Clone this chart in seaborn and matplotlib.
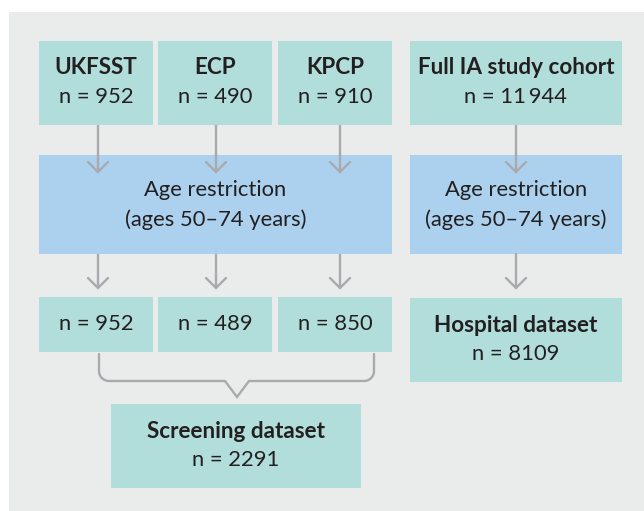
import numpy as np
import seaborn as sns
import matplotlib.pyplot as plt
from matplotlib.patches import Rectangle

sns.set_theme(style="white")
plt.rcParams['font.family'] = ['Lato', 'DejaVu Sans']

# boxes: (left, top, right, bottom) in pixels, title, count
box_pos = [(39, 41, 153, 125), (158, 41, 272, 125), (278, 41, 392, 125),
           (410, 41, 622, 125),
           (39, 155, 392, 254), (410, 155, 622, 254),
           (39, 297, 153, 352), (158, 297, 272, 352), (278, 297, 392, 352),
           (410, 298, 622, 382),
           (111, 404, 361, 488)]
box_kind = ["src", "src", "src", "src", "age", "age",
            "src", "src", "src", "src", "src"]
box_title = ["UKFSST", "ECP", "KPCP", "Full IA study cohort", None, None,
             None, None, None, "Hospital dataset", "Screening dataset"]
box_n = ["952", "490", "910", "11\u2009944", None, None,
         "952", "489", "850", "8109", "2291"]
age_text = ["Age restriction", "(ages 50\u201374 years)"]

# arrows: x, y start, y tip
arrow_x = [98, 216, 340, 516, 98, 216, 340, 516]
arrow_y0 = [125, 125, 125, 125, 254, 254, 254, 253]
arrow_y1 = [172, 172, 172, 172, 288, 288, 288, 288]

teal = "#b1dddb"
blue = "#acd1ee"
panel = "#eaebeb"
grey = "#a9aaad"
ink = "#231f20"

fig = plt.figure(figsize=(6.44, 5.11), dpi=100)
ax = fig.add_axes([0, 0, 1, 1])
ax.set_xlim(0, 644)
ax.set_ylim(511, 0)
ax.axis("off")

ax.add_patch(Rectangle((9, 12), 644 - 9, 511 - 12, color=panel, lw=0))

fs = 15.8
fs_b = 16.2
for (l, t, r, b), kind, title, n in zip(box_pos, box_kind, box_title, box_n):
    ax.add_patch(Rectangle((l, t), r - l, b - t, color=teal if kind == "src" else blue, lw=0))
    cx = (l + r) / 2
    cy = (t + b) / 2
    if kind == "age":
        ax.text(cx, cy - 14, age_text[0], ha="center", va="center", fontsize=fs, color=ink)
        ax.text(cx, cy + 15, age_text[1], ha="center", va="center", fontsize=fs, color=ink)
    elif title is None:
        ax.text(cx, cy, "n = " + n, ha="center", va="center", fontsize=fs, color=ink)
    else:
        ax.text(cx, cy - 15, title, ha="center", va="center", fontsize=fs_b,
                fontweight="bold", color=ink)
        ax.text(cx, cy + 14, "n = " + n, ha="center", va="center", fontsize=fs, color=ink)

lw = 1.7
for x, y0, y1 in zip(arrow_x, arrow_y0, arrow_y1):
    ax.plot([x, x], [y0, y1], color=grey, lw=lw, solid_capstyle="butt")
    ax.plot([x - 10, x, x + 10], [y1 - 10, y1, y1 - 10], color=grey, lw=lw,
            solid_joinstyle="miter")

# bracket joining the screening boxes
r = 10
top, base = 354, 381
xl, xr, xm = 99, 374, 237
a = np.linspace(np.pi, np.pi / 2, 12)
left_arc = np.c_[xl + r + r * np.cos(a), base - r + r * np.sin(a)]
b_ = np.linspace(np.pi / 2, 0, 12)
right_arc = np.c_[xr - r + r * np.cos(b_), base - r + r * np.sin(b_)]
pts = np.vstack([[xl, top], left_arc, [xm - 12, base], [xm, base + 16],
                 [xm + 12, base], right_arc, [xr, top]])
ax.plot(pts[:, 0], pts[:, 1], color=grey, lw=lw, solid_joinstyle="miter")

fig.savefig("out.png", dpi=100)
